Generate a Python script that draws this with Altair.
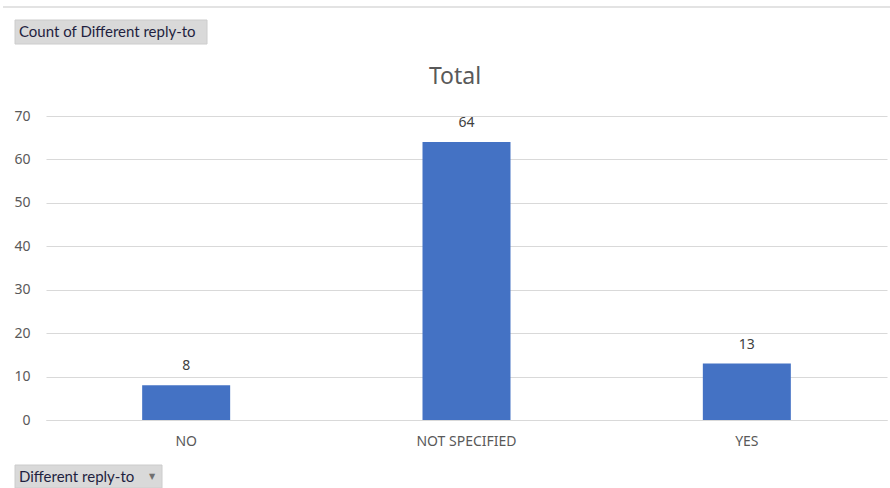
import altair as alt
import pandas as pd

# Pivot-chart data: count of messages per "Different reply-to" value
categories = ["NO", "NOT SPECIFIED", "YES"]
counts = [8, 64, 13]

df = pd.DataFrame({"Different reply-to": categories, "Count": counts})
one_row = pd.DataFrame({"k": [0]})  # single row for decorations drawn once

FONT = "Noto Sans"
BTN_FONT = "Lato"
GREY = "#595959"
BLUE = "#4472C4"

base = alt.Chart(df)
deco = alt.Chart(one_row)

x_enc = alt.X(
    "Different reply-to:N",
    sort=categories,
    title=None,
    scale=alt.Scale(paddingInner=0, paddingOuter=0),
    axis=alt.Axis(
        domain=True, domainColor="#d9d9d9", ticks=False, grid=False,
        labelAngle=0, labelFont=FONT, labelFontSize=14, labelColor=GREY,
        labelPadding=14,
    ),
)
y_enc = alt.Y(
    "Count:Q",
    title=None,
    scale=alt.Scale(domain=[0, 70], nice=False),
    axis=alt.Axis(
        values=list(range(0, 71, 10)), domain=False, ticks=False,
        labelFont=FONT, labelFontSize=14, labelColor=GREY, labelPadding=16,
        grid=True, gridColor="#d9d9d9", gridWidth=1,
    ),
)

bars = base.mark_bar(color=BLUE, size=88).encode(x=x_enc, y=y_enc)

labels = base.mark_text(
    dy=-19, font=FONT, fontSize=14, fontWeight="normal", color="#404040"
).encode(
    x=alt.X("Different reply-to:N", sort=categories),
    y=alt.Y("Count:Q"),
    text="Count:Q",
)

# Chart title
title = deco.mark_text(
    text="Total", font=FONT, fontSize=23, fontWeight="normal", color=GREY,
    align="center",
).encode(x=alt.value(409), y=alt.value(-39))

# Sheet column-header strip along the top
header_line = deco.mark_rule(color="#e3e3e3", strokeWidth=2).encode(
    x=alt.value(-43), x2=alt.value(844), y=alt.value(-109)
)

# Pivot field buttons
btn_top = deco.mark_rect(color="#d9d9d9", stroke="#cccccc").encode(
    x=alt.value(-31), x2=alt.value(161), y=alt.value(-96), y2=alt.value(-72)
)
btn_top_text = deco.mark_text(
    text="Count of Different reply-to", font=BTN_FONT, fontSize=15,
    fontWeight="normal", color="#1f1f3f", align="left", baseline="middle",
).encode(x=alt.value(-27), y=alt.value(-84))

btn_bot = deco.mark_rect(color="#d9d9d9", stroke="#cccccc").encode(
    x=alt.value(-31), x2=alt.value(116), y=alt.value(349), y2=alt.value(372)
)
btn_bot_text = deco.mark_text(
    text="Different reply-to", font=BTN_FONT, fontSize=15,
    fontWeight="normal", color="#1f1f3f", align="left", baseline="middle",
).encode(x=alt.value(-27), y=alt.value(361))
btn_bot_arrow = deco.mark_text(
    text="\u25BC", font="DejaVu Sans", fontSize=8, color="#707070",
    align="center", baseline="middle",
).encode(x=alt.value(106), y=alt.value(361))

chart = (
    alt.layer(bars, labels, header_line, btn_top, btn_top_text, title,
              btn_bot, btn_bot_text, btn_bot_arrow)
    .properties(
        width=841, height=304,
        background="white",
        autosize=alt.AutoSizeParams(type="none"),
        padding={"left": 46, "top": 116, "right": 3, "bottom": 68},
    )
    .configure_view(stroke="transparent", strokeWidth=0)
)

chart.save("out.html", embed_options={"renderer": "svg", "actions": False})
